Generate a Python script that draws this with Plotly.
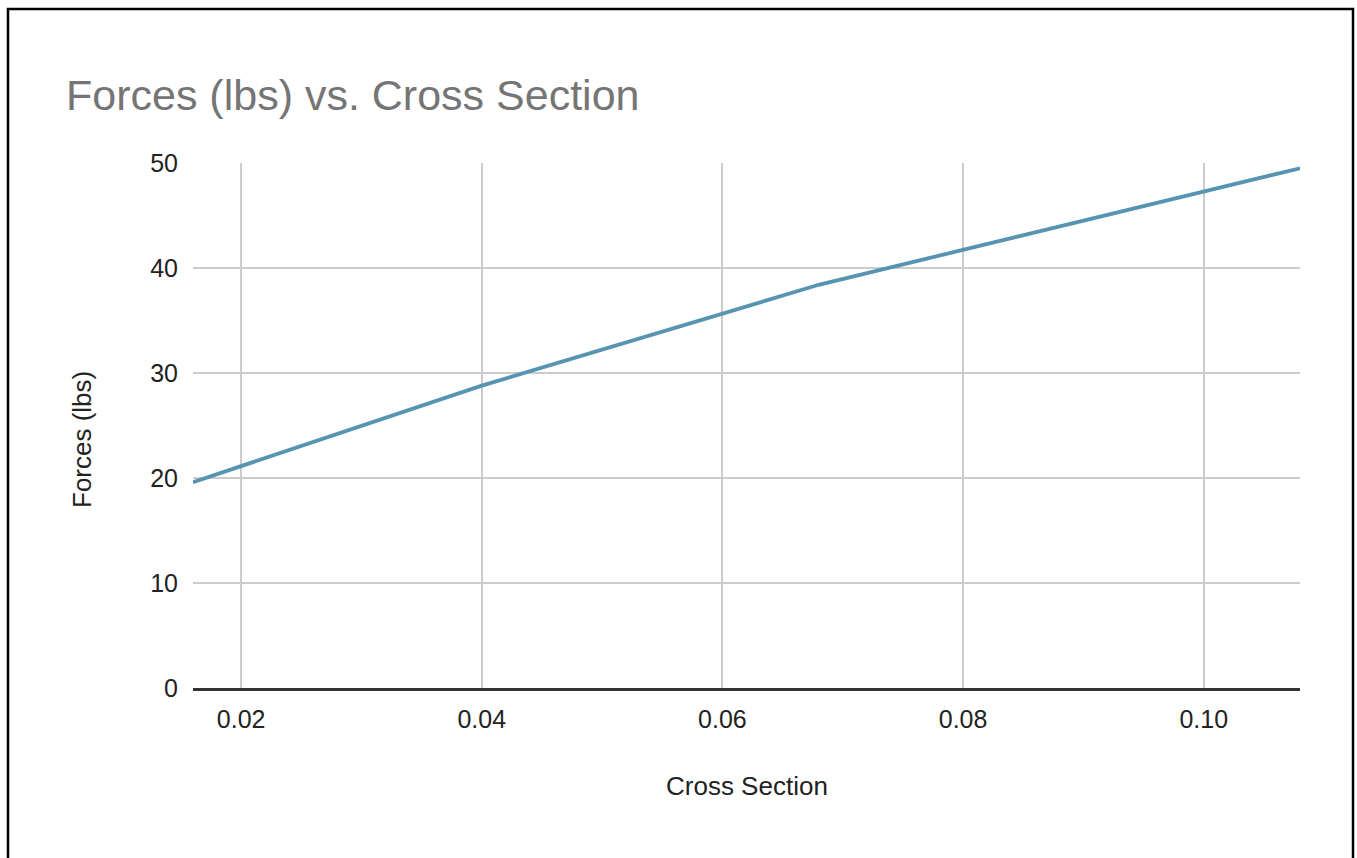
import plotly.graph_objects as go

# Measured force against cross-sectional area
cross_section = [0.016, 0.040, 0.068, 0.108]
forces_lbs = [19.6, 28.8, 38.4, 49.5]

x_ticks = [0.02, 0.04, 0.06, 0.08, 0.10]
x_tick_text = ["0.02", "0.04", "0.06", "0.08", "0.10"]
y_ticks = [0, 10, 20, 30, 40, 50]

W, H = 1357, 858
L, R, T, B = 193, 57, 163, 170
plot_w = W - L - R
plot_h = H - T - B

def px_x(px):
    return (px - L) / plot_w

def px_y(py):
    return (H - B - py) / plot_h

font_family = "Liberation Sans, Arial, sans-serif"

fig = go.Figure()
fig.add_trace(go.Scatter(
    x=cross_section,
    y=forces_lbs,
    mode="lines",
    line=dict(color="#5794b2", width=3.8),
    showlegend=False,
))

fig.update_layout(
    width=W,
    height=H,
    margin=dict(l=L, r=R, t=T, b=B),
    paper_bgcolor="white",
    plot_bgcolor="white",
    font=dict(family=font_family, color="#222222", size=25),
    title=dict(
        text="Forces (lbs) vs. Cross Section",
        x=66 / W,
        xanchor="left",
        xref="container",
        y=1 - 95 / H,
        yanchor="middle",
        yref="container",
        font=dict(family=font_family, size=43, color="#757575"),
    ),
    xaxis=dict(
        range=[cross_section[0], cross_section[-1]],
        tickvals=x_ticks,
        ticktext=x_tick_text,
        showgrid=True,
        gridcolor="#cccccc",
        gridwidth=1.5,
        zeroline=False,
        showline=True,
        linecolor="#333333",
        linewidth=2.5,
        ticks="",
        ticklabelstandoff=7,
    ),
    yaxis=dict(
        range=[0, 50],
        tickvals=y_ticks,
        showgrid=True,
        gridcolor="#cccccc",
        gridwidth=1.5,
        zeroline=False,
        ticks="",
        ticklabelstandoff=14,
    ),
    annotations=[
        dict(
            text="Cross Section",
            xref="paper", yref="paper",
            x=0.5, y=px_y(786),
            xanchor="center", yanchor="middle",
            showarrow=False,
            font=dict(family=font_family, size=26, color="#222222"),
        ),
        dict(
            text="Forces (lbs)",
            xref="paper", yref="paper",
            x=px_x(82), y=px_y(440),
            xanchor="center", yanchor="middle",
            textangle=-90,
            showarrow=False,
            font=dict(family=font_family, size=26, color="#222222"),
        ),
    ],
    shapes=[
        dict(
            type="rect",
            xref="paper", yref="paper",
            x0=px_x(8), x1=px_x(1353),
            y0=px_y(875), y1=px_y(9),
            line=dict(color="black", width=2.5),
            fillcolor="rgba(0,0,0,0)",
            layer="below",
        )
    ],
)

fig.write_html("out.html")
